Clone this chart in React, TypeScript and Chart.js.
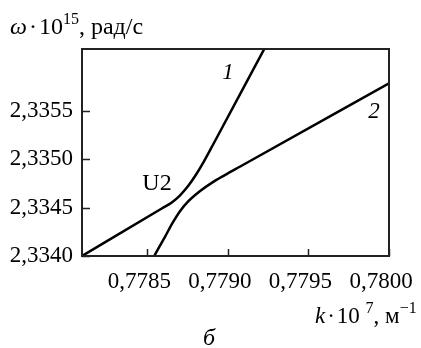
import React, { useEffect, useRef } from "react";
import { Chart, registerables } from "chart.js";

Chart.register(...registerables);

// Axis ranges and ticks
const xMin = 0.778095;
const xMax = 0.78;
const yMin = 2.334;
const yMax = 2.336143;
const xTicks = [0.7785, 0.779, 0.7795, 0.78];
const yTicks = [2.334, 2.3345, 2.335, 2.3355];

// Curve 1 (upper branch)
const curve1X = [0.778095, 0.77859, 0.778652, 0.778702, 0.778751, 0.778801, 0.778851, 0.778907, 0.779229];
const curve1Y = [2.334, 2.334492, 2.334554, 2.334626, 2.334719, 2.334839, 2.334978, 2.335149, 2.336153];

// Curve 2 (lower branch)
const curve2X = [0.778543, 0.778609, 0.778658, 0.778702, 0.778751, 0.778826, 0.7789, 0.778981, 0.779074, 0.78];
const curve2Y = [2.334, 2.334196, 2.334345, 2.334461, 2.33456, 2.33467, 2.334757, 2.334837, 2.334924, 2.335788];

const FONT = "'Liberation Serif', 'Times New Roman', serif";

const fmt = (v: number) => v.toFixed(4).replace(".", ",");

const toPts = (xs: number[], ys: number[]) => xs.map((x, i) => ({ x, y: ys[i] }));

type Part = { t: string; sup?: boolean; italic?: boolean; gap?: number };

function drawRich(ctx: CanvasRenderingContext2D, parts: Part[], x: number, y: number, size: number) {
  let cx = x;
  for (const p of parts) {
    if (p.gap) { cx += p.gap; continue; }
    const s = p.sup ? Math.round(size * 0.68) : size;
    ctx.font = `${p.italic ? "italic " : ""}${s}px ${FONT}`;
    ctx.fillText(p.t, cx, p.sup ? y - size * 0.42 : y);
    cx += ctx.measureText(p.t).width;
  }
}

const decor = {
  id: "decor",
  afterDatasetsDraw(chart: any) {
    const ctx: CanvasRenderingContext2D = chart.ctx;
    const a = chart.chartArea;
    const xs = chart.scales.x;
    const ys = chart.scales.y;
    ctx.save();
    // frame
    ctx.strokeStyle = "#222";
    ctx.lineWidth = 2;
    ctx.strokeRect(a.left, a.top, a.right - a.left, a.bottom - a.top);
    // inward ticks
    ctx.lineWidth = 1.5;
    ctx.beginPath();
    for (const v of xTicks) {
      const px = Math.round(xs.getPixelForValue(v)) + 0.5;
      ctx.moveTo(px, a.bottom);
      ctx.lineTo(px, a.bottom - 7);
    }
    for (const v of yTicks) {
      const py = Math.round(ys.getPixelForValue(v)) + 0.5;
      ctx.moveTo(a.left, py);
      ctx.lineTo(a.left + 8, py);
    }
    ctx.stroke();
    // curve labels
    ctx.fillStyle = "#000";
    ctx.textBaseline = "alphabetic";
    ctx.textAlign = "center";
    ctx.font = `italic 23px ${FONT}`;
    ctx.fillText("1", 228, 79);
    ctx.fillText("2", 374, 118);
    ctx.font = `24px ${FONT}`;
    ctx.fillText("U2", 157, 190);
    ctx.font = `italic 24px ${FONT}`;
    ctx.fillText("б", 209, 345);
    // axis titles
    ctx.textAlign = "left";
    drawRich(ctx, [{ t: "ω", italic: true }, { t: "", gap: 2 }, { t: "·" }, { t: "", gap: 2 }, { t: "10" }, { t: "15", sup: true }, { t: ", рад/с" }], 10, 34, 24);
    drawRich(ctx, [{ t: "k", italic: true }, { t: "", gap: 2 }, { t: "·" }, { t: "", gap: 2 }, { t: "10 " }, { t: "7", sup: true }, { t: ", м" }, { t: "−1", sup: true }], 315, 323, 23);
    ctx.restore();
  },
};

export default function App() {
  const ref = useRef<HTMLCanvasElement | null>(null);
  useEffect(() => {
    document.body.style.margin = "0";
    Chart.defaults.font.family = FONT;
    Chart.defaults.color = "#000";
    const chart = new Chart(ref.current!, {
      type: "scatter",
      data: {
        datasets: [
          { data: toPts(curve1X, curve1Y), showLine: true, borderColor: "#000", borderWidth: 2.5, pointRadius: 0, cubicInterpolationMode: "monotone" },
          { data: toPts(curve2X, curve2Y), showLine: true, borderColor: "#000", borderWidth: 2.5, pointRadius: 0, cubicInterpolationMode: "monotone" },
        ],
      },
      options: {
        animation: false,
        responsive: false,
        devicePixelRatio: 1,
        layout: { padding: { left: 9, top: 49, right: 32, bottom: 0 } },
        plugins: { legend: { display: false }, tooltip: { enabled: false } },
        scales: {
          x: {
            type: "linear",
            min: xMin,
            max: xMax,
            grid: { display: false, drawTicks: false },
            border: { display: false },
            afterBuildTicks: (s: any) => { s.ticks = xTicks.map((value) => ({ value })); },
            afterFit: (s: any) => { s.height = 92; s.paddingLeft = 0; s.paddingRight = 0; },
            ticks: { padding: 12, labelOffset: -8, font: { size: 23 }, maxRotation: 0, autoSkip: false, callback: (v: any) => fmt(Number(v)) },
          },
          y: {
            type: "linear",
            min: yMin,
            max: yMax,
            grid: { display: false, drawTicks: false },
            border: { display: false },
            afterBuildTicks: (s: any) => { s.ticks = yTicks.map((value) => ({ value })); },
            afterFit: (s: any) => { s.width = 73; s.paddingTop = 0; s.paddingBottom = 0; },
            ticks: { padding: 9, font: { size: 23 }, autoSkip: false, callback: (v: any) => fmt(Number(v)) },
          },
        },
      },
      plugins: [decor],
    });
    return () => chart.destroy();
  }, []);
  return (
    <div style={{ position: "fixed", left: 0, top: 0, width: 421, height: 348, background: "#fff" }}>
      <canvas ref={ref} width={421} height={348} style={{ width: 421, height: 348 }} />
    </div>
  );
}
